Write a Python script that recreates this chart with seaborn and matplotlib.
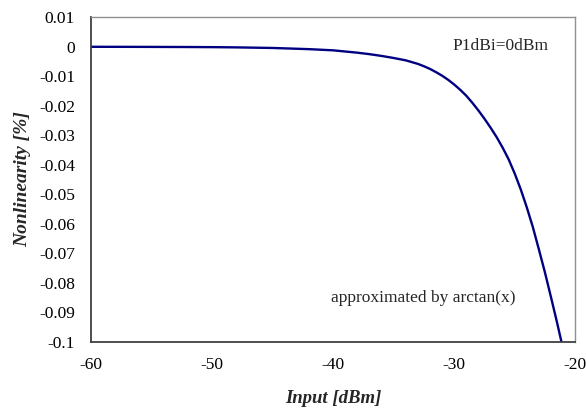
import matplotlib
matplotlib.use("Agg")
import matplotlib.pyplot as plt
import seaborn as sns
import pandas as pd

input_dbm = [-60, -57, -55, -52, -50, -48, -45, -42, -40, -38, -37, -36, -35, -34,
             -33.5, -33, -32.5, -32, -31.5, -31, -30.5, -30, -29.5, -29, -28.5, -28,
             -27.5, -27, -26.5, -26, -25.5, -25, -24.5, -24, -23.5, -23, -22.5, -22,
             -21.5, -21]
nonlinearity = [0.0, -0.00002, -0.00004, -0.00008, -0.00012, -0.0002, -0.0004, -0.0008,
                -0.0012, -0.0020, -0.0025, -0.0031, -0.0038, -0.0046,
                -0.0052, -0.0058, -0.0066, -0.0075, -0.0086, -0.0098, -0.0112, -0.0128,
                -0.0146, -0.0166, -0.0190, -0.0216, -0.0244, -0.0274, -0.0306, -0.0342,
                -0.0382, -0.0430, -0.0484, -0.0545, -0.0612, -0.0688, -0.0766, -0.0850,
                -0.0936, -0.1026]

x_ticks = [-60, -50, -40, -30, -20]
y_ticks = [0.01, 0, -0.01, -0.02, -0.03, -0.04, -0.05, -0.06, -0.07, -0.08, -0.09, -0.1]
y_tick_labels = ["0.01", "0", "-0.01", "-0.02", "-0.03", "-0.04", "-0.05", "-0.06",
                 "-0.07", "-0.08", "-0.09", "-0.1"]

sns.set_style("white")
plt.rcParams['font.family'] = ['Liberation Serif', 'DejaVu Serif']

df = pd.DataFrame({"x": input_dbm, "y": nonlinearity})

fig = plt.figure(figsize=(5.86, 4.08), dpi=100)
ax = fig.add_axes([0.1553, 0.1625, 0.8264, 0.7951])
sns.lineplot(data=df, x="x", y="y", ax=ax, color="#000080", linewidth=1.7)

ax.set_xlim(-60, -20)
ax.set_ylim(-0.1, 0.01)
ax.set_xticks(x_ticks)
ax.set_xticklabels([str(t) for t in x_ticks])
ax.set_yticks(y_ticks)
ax.set_yticklabels(y_tick_labels)
ax.tick_params(axis="both", direction="in", length=5, width=1, colors="#404040",
               labelsize=12.5, labelcolor="black")
ax.tick_params(axis="x", pad=11)
ax.tick_params(axis="y", pad=11.5)

for s in ["left", "bottom"]:
    ax.spines[s].set_color("#404040")
    ax.spines[s].set_linewidth(1.3)
for s in ["top", "right"]:
    ax.spines[s].set_color("#909090")
    ax.spines[s].set_linewidth(1.0)

ax.set_xlabel("Input [dBm]", fontsize=13.5, fontweight="bold", fontstyle="italic", labelpad=12)
ax.set_ylabel("Nonlinearity [%]", fontsize=14, fontweight="bold", fontstyle="italic", labelpad=5.5)

ax.text(0.945, 0.91, "P1dBi=0dBm", transform=ax.transAxes, ha="right", va="center",
        fontsize=12.5)
ax.text(0.877, 0.135, "approximated by arctan(x)", transform=ax.transAxes, ha="right",
        va="center", fontsize=12.5)

fig.savefig("out.png", dpi=100)
